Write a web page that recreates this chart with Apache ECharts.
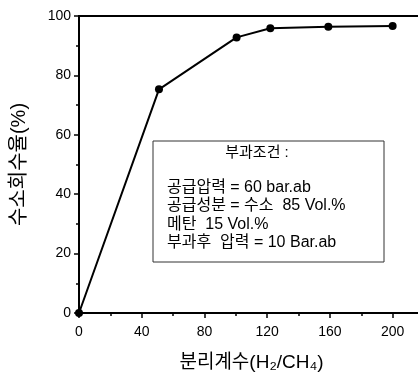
<!DOCTYPE html>
<html><head><meta charset="utf-8">
<script src="https://cdn.jsdelivr.net/npm/echarts@6/dist/echarts.min.js"></script>
<style>html,body{margin:0;padding:0;background:#fff}#c{width:418px;height:373px}</style>
</head><body><div id="c"></div>
<script>
var xValues = [0, 51, 100.5, 122, 159, 200];
var yValues = [0, 75.3, 92.8, 95.9, 96.4, 96.6];
var xTicks = [0, 40, 80, 120, 160, 200];
var yTicks = [0, 20, 40, 60, 80, 100];
var xName = '분리계수(H₂/CH₄)';
var yName = '수소회수율(%)';
var boxTitle = '부과조건 :';
var boxLines = ['공급압력 = 60 bar.ab', '공급성분 = 수소  85 Vol.%', '메탄  15 Vol.%', '부과후  압력 = 10 Bar.ab'];

var FONT = '"Liberation Sans", "Noto Sans CJK KR", sans-serif';
var chart = echarts.init(document.getElementById('c'));
var pts = xValues.map(function(x, i){ return [x, yValues[i]]; });
var axisCommon = {
  axisLine: {show: true, lineStyle: {color: '#000', width: 2}},
  axisTick: {show: true, inside: false, length: 5, lineStyle: {color: '#000', width: 1.5}},
  minorTick: {show: true, splitNumber: 2, length: 3, lineStyle: {color: '#000', width: 1.5}},
  splitLine: {show: false}
};
var lineY = [188, 206, 225, 243];
var graphics = [
  {type: 'rect', shape: {x: 153, y: 141, width: 231, height: 121},
   style: {fill: '#fff', stroke: '#333', lineWidth: 1}, z: 10},
  {type: 'text', x: 257, y: 153, z: 11,
   style: {text: boxTitle, fill: '#000', font: '15px ' + FONT, textAlign: 'center', textVerticalAlign: 'middle'}}
];
boxLines.forEach(function(t, i){
  graphics.push({type: 'text', x: 167, y: lineY[i], z: 11,
    style: {text: t, fill: '#000', font: '16px ' + FONT, textVerticalAlign: 'middle'}});
});
chart.setOption({
  animation: false,
  backgroundColor: '#fff',
  grid: {left: 79, top: 16, width: 345, height: 297, show: true, borderColor: '#000', borderWidth: 2,
         containLabel: false, outerBoundsMode: 'none'},
  xAxis: Object.assign({}, axisCommon, {
    type: 'value', min: 0, max: 220, interval: 40,
    name: xName, nameLocation: 'middle', nameGap: 40,
    nameTextStyle: {color: '#000', fontSize: 19, fontFamily: FONT},
    axisLabel: {color: '#000', fontSize: 14, fontFamily: FONT, margin: 12,
      formatter: function(v){ return xTicks.indexOf(v) >= 0 ? String(v) : ''; }}
  }),
  yAxis: Object.assign({}, axisCommon, {
    type: 'value', min: 0, max: 100, interval: 20,
    name: yName, nameLocation: 'middle', nameGap: 50, nameRotate: 90,
    nameTextStyle: {color: '#000', fontSize: 20, fontFamily: FONT},
    axisLabel: {color: '#000', fontSize: 14, fontFamily: FONT, margin: 8,
      formatter: function(v){ return yTicks.indexOf(v) >= 0 ? String(v) : ''; }}
  }),
  series: [{
    type: 'line', data: pts, symbol: 'circle', symbolSize: 8,
    showSymbol: true,
    lineStyle: {color: '#000', width: 2},
    itemStyle: {color: '#000'},
    silent: true
  }],
  graphic: graphics
});
</script></body></html>
